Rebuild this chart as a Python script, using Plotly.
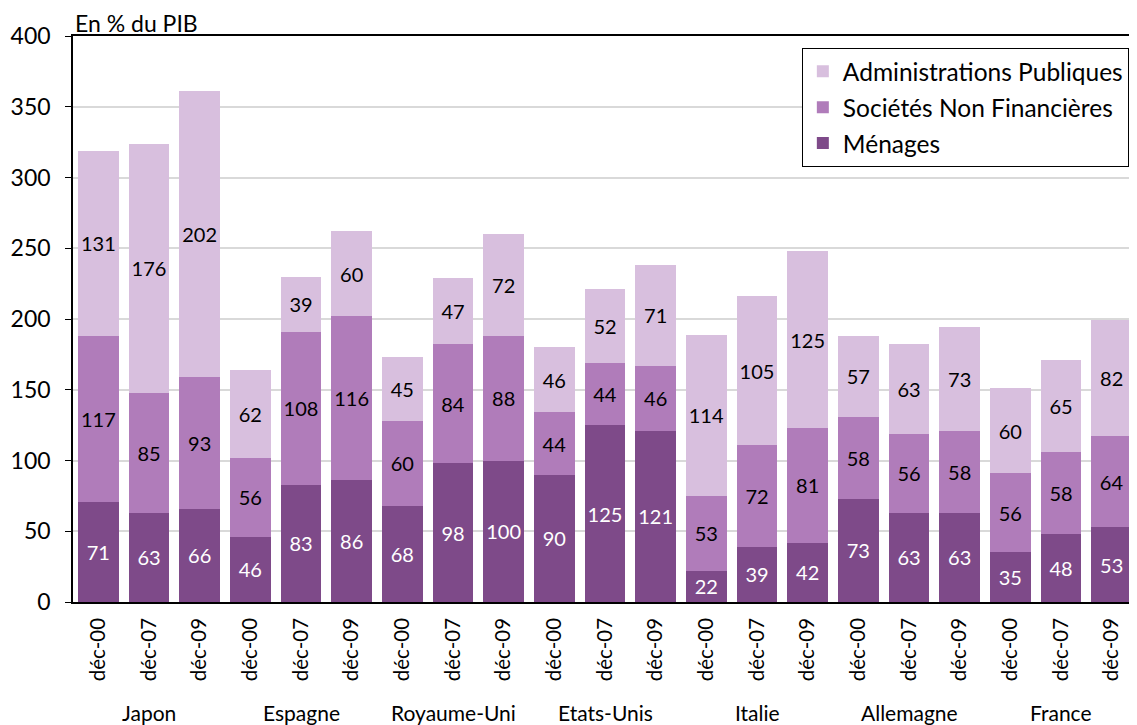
import plotly.graph_objects as go

# Données (en % du PIB)
pays = ['Japon', 'Espagne', 'Royaume-Uni', 'Etats-Unis', 'Italie', 'Allemagne', 'France']
dates = ['déc-00', 'déc-07', 'déc-09']

menages = [71, 63, 66, 46, 83, 86, 68, 98, 100, 90, 125, 121, 22, 39, 42, 73, 63, 63, 35, 48, 53]
societes = [117, 85, 93, 56, 108, 116, 60, 84, 88, 44, 44, 46, 53, 72, 81, 58, 56, 58, 56, 58, 64]
administrations = [131, 176, 202, 62, 39, 60, 45, 47, 72, 46, 52, 71, 114, 105, 125, 57, 63, 73, 60, 65, 82]

tick_labels = [d for p in pays for d in dates]
x_pos = list(range(len(tick_labels)))

FONT = 'Lato'

fig = go.Figure()

# ordre d'empilement : ménages en bas ; rang de légende inversé
series = [
    ('Ménages', menages, '#7E4A89', 'white', 3),
    ('Sociétés Non Financières', societes, '#B07CBA', 'black', 2),
    ('Administrations Publiques', administrations, '#D8BFDE', 'black', 1),
]
for i, (nom, vals, couleur, coul_txt, rang) in enumerate(series):
    fig.add_trace(go.Bar(
        x=x_pos,
        y=vals,
        name=nom,
        legendgroup=str(i),
        legendrank=rang,
        marker=dict(color=couleur, line=dict(width=0)),
        text=vals,
        texttemplate='%{text}',
        textposition='inside',
        insidetextanchor='middle',
        textangle=0,
        constraintext='none',
        textfont=dict(family=FONT, size=20, color=coul_txt),
        hoverinfo='skip',
    ))

# noms des pays sous les dates
for k, p in enumerate(pays):
    fig.add_annotation(
        x=3 * k + 1, y=0, xref='x', yref='paper',
        yshift=-110, text=p, showarrow=False,
        font=dict(family=FONT, size=21, color='black'),
        yanchor='middle',
    )

fig.add_annotation(
    x=0, y=1, xref='paper', yref='paper', xanchor='left', yanchor='bottom',
    text='En % du PIB', showarrow=False, yshift=-3,
    font=dict(family=FONT, size=23, color='black'),
)

# la page html ajoute une marge de 8 px : on réduit la figure d'autant
fig.update_layout(
    barmode='stack',
    bargap=0.2,
    width=1129,
    height=717,
    margin=dict(l=65, r=0, t=28, b=123),
    plot_bgcolor='white',
    paper_bgcolor='white',
    font=dict(family=FONT, size=20, color='black'),
    legend=dict(
        x=0.685, y=0.979, xanchor='left', yanchor='top',
        traceorder='grouped', tracegroupgap=1,
        bordercolor='black', borderwidth=1,
        font=dict(family=FONT, size=24.5, color='black'),
        itemwidth=30,
    ),
    xaxis=dict(
        range=[-0.5, 20.5],
        tickmode='array',
        tickvals=x_pos,
        ticktext=tick_labels,
        tickangle=-90,
        ticklabelstandoff=6,
        showline=True, linecolor='black', linewidth=1.5, mirror=True,
        showgrid=False, ticks='',
        tickfont=dict(family=FONT, size=20.5),
    ),
    yaxis=dict(
        range=[0, 400],
        dtick=50,
        showline=True, linecolor='black', linewidth=1.5,
        ticks='outside', ticklen=6, tickcolor='black',
        ticklabelstandoff=10,
        gridcolor='#D9D9D9', gridwidth=1.5,
        tickfont=dict(family=FONT, size=23),
        zeroline=False,
    ),
)

fig.write_html('out.html')
